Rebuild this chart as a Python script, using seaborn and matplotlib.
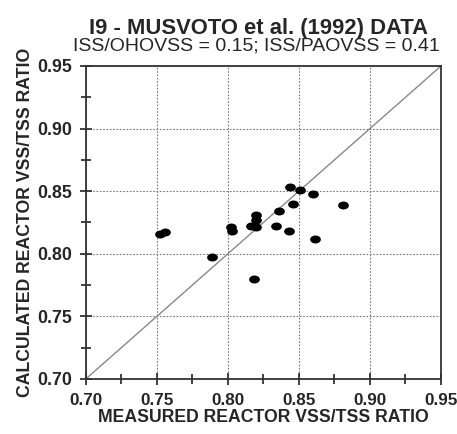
import numpy as np
import pandas as pd
import matplotlib
matplotlib.use("Agg")
import matplotlib.pyplot as plt
from matplotlib.path import Path
from matplotlib.transforms import Affine2D
import seaborn as sns

# Data
measured = [0.752, 0.756, 0.789, 0.802, 0.803, 0.818, 0.816, 0.820, 0.820, 0.820,
            0.834, 0.836, 0.843, 0.846, 0.844, 0.851, 0.860, 0.861, 0.881]
calculated = [0.816, 0.817, 0.797, 0.821, 0.818, 0.780, 0.822, 0.831, 0.827, 0.821,
              0.822, 0.834, 0.818, 0.840, 0.853, 0.851, 0.848, 0.812, 0.839]
ticks = [0.70, 0.75, 0.80, 0.85, 0.90, 0.95]

df = pd.DataFrame({'measured': measured, 'calculated': calculated})

sns.set_style("ticks")
plt.rcParams['font.family'] = ['Liberation Sans', 'DejaVu Sans']

fig = plt.figure(figsize=(4.57, 4.34), dpi=100)
ax = fig.add_axes([0.188, 0.127, 0.777, 0.721])

# ellipse marker, wider than tall
ellipse = Path.unit_circle().transformed(Affine2D().scale(1.35, 1.0))

ax.plot([0.70, 0.95], [0.70, 0.95], color='#888888', lw=1.0, zorder=1)
sns.scatterplot(data=df, x='measured', y='calculated', ax=ax, marker=ellipse,
                s=60, color='black', edgecolor='black', linewidth=0, zorder=3)

ax.set_xlim(0.70, 0.95)
ax.set_ylim(0.70, 0.95)
ax.set_xticks(ticks)
ax.set_yticks(ticks)
ax.set_xticks(np.arange(0.725, 0.95, 0.05), minor=True)
ax.set_yticks(np.arange(0.725, 0.95, 0.05), minor=True)
ax.set_xticklabels([f"{t:.2f}" for t in ticks], fontsize=12.3, fontweight='bold')
ax.set_yticklabels([f"{t:.2f}" for t in ticks], fontsize=12.8, fontweight='bold')
ax.tick_params(which='major', length=8, width=1.3, direction='inout', color='#333333', pad=6)
ax.tick_params(which='minor', length=7, width=1.3, direction='inout', color='#333333')
ax.grid(True, which='major', linestyle=(0, (1.5, 1.5)), color='#777777', lw=0.8)
for s in ax.spines.values():
    s.set_color('#333333')
    s.set_linewidth(1.3)

ax.set_xlabel('MEASURED REACTOR VSS/TSS RATIO', fontsize=12.7, fontweight='bold', labelpad=1)
ax.set_ylabel('CALCULATED REACTOR VSS/TSS RATIO', fontsize=12.7, fontweight='bold', labelpad=2)
fig.text(0.565, 0.935, 'I9 - MUSVOTO et al. (1992) DATA', ha='center', va='center',
         fontsize=15.8, fontweight='bold')
fig.text(0.56, 0.895, 'ISS/OHOVSS = 0.15; ISS/PAOVSS = 0.41', ha='center', va='center',
         fontsize=14)

fig.savefig('out.png', dpi=100)
